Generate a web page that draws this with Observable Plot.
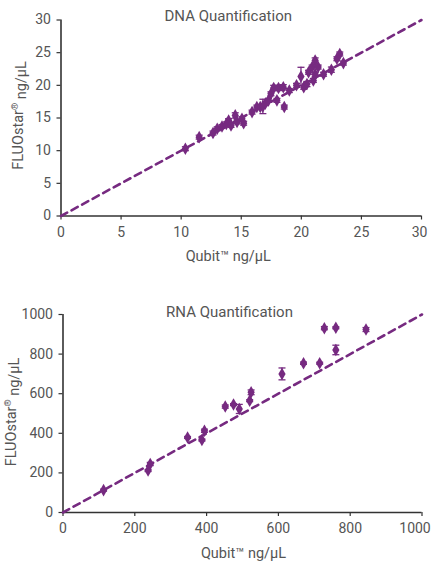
<!DOCTYPE html>
<html><head><meta charset="utf-8">
<script src="https://cdn.jsdelivr.net/npm/d3@7"></script>
<script src="https://cdn.jsdelivr.net/npm/@observablehq/plot@0.6"></script>
<style>
body{margin:0;background:#fff;}
#wrap{width:431px;}
#wrap svg{display:block;}
</style></head><body><div id="wrap"></div>
<script>
const purple = "#762a80";
const inkText = "#555";
const inkAxis = "#333";

// DNA Quantification (Qubit vs FLUOstar, ng/µL)
const dnaQubit = [10.35, 11.5, 12.65, 13.0, 13.4, 13.76, 13.95, 14.15, 14.5, 14.65, 15.06, 15.2, 15.9, 16.3, 16.58, 16.8, 17.0, 17.27, 17.47, 17.7, 17.97, 18.1, 18.5, 18.58, 19.0, 19.6, 19.97, 20.2, 20.47, 20.6, 20.9, 21.0, 21.15, 21.15, 21.4, 21.85, 22.5, 22.96, 23.2, 23.5];
const dnaFluo  = [10.3, 12.07, 12.7, 13.35, 13.7, 14.1, 14.6, 13.86, 15.4, 14.4, 14.9, 14.2, 15.9, 16.67, 16.67, 16.77, 17.2, 17.7, 18.7, 19.6, 17.7, 19.6, 19.7, 16.67, 19.2, 20.0, 21.36, 19.7, 20.2, 22.0, 22.8, 20.75, 23.8, 21.7, 22.8, 21.7, 22.4, 24.07, 24.8, 23.4];
const dnaErr   = [0.3, 0.3, 0.3, 0.3, 0.3, 0.3, 0.3, 0.3, 0.4, 0.3, 0.3, 0.3, 0.3, 0.3, 0.3, 1.1, 0.3, 0.3, 0.3, 0.4, 0.3, 0.4, 0.4, 0.3, 0.3, 0.3, 1.4, 0.3, 0.4, 0.3, 0.3, 0.3, 0.4, 0.3, 0.3, 0.3, 0.4, 0.3, 0.3, 0.3];
const dnaTicks = [0, 5, 10, 15, 20, 25, 30];

// RNA Quantification (Qubit vs FLUOstar, ng/µL)
const rnaQubit = [113, 237, 243, 347, 387, 394, 452, 475, 491, 520, 524, 610, 670, 715, 728, 760, 760, 844];
const rnaFluo  = [113, 212, 245, 379, 366, 413, 535, 545, 523, 565, 607, 700, 754, 754, 931, 933, 821, 924];
const rnaErr   = [5, 5, 8, 5, 5, 8, 8, 5, 23, 5, 12, 30, 6, 5, 8, 5, 24, 10];
const rnaTicks = [0, 200, 400, 600, 800, 1000];

const xLabel = "Qubit™ ng/µL";
const yLabel = "FLUOstar® ng/µL";

const capSymbol = {draw(ctx) { ctx.moveTo(-3.5, 0); ctx.lineTo(3.5, 0); }};

function chart(o) {
  const rows = o.qubit.map((q, i) => ({q, f: o.fluo[i], e: o.err[i]}));
  const maxV = o.ticks[o.ticks.length - 1];
  const diag = [o.ticks[0], maxV].map(v => ({q: v, f: v}));
  const axisCommon = {tickSize: 4, label: null, stroke: inkAxis, strokeWidth: 1.2, fill: inkText, tickFormat: d => String(d)};
  return Plot.plot({
    width: 431, height: o.height,
    marginTop: o.mt, marginBottom: o.mb, marginLeft: o.ml, marginRight: o.mr,
    x: {domain: [0, maxV]},
    y: {domain: [0, maxV]},
    style: {fontFamily: "Roboto, 'Open Sans', sans-serif", fontSize: "14px", color: inkText, background: "#fff", overflow: "visible"},
    marks: [
      Plot.axisX({...axisCommon, ticks: o.ticks.slice(0, -1), tickPadding: 7}),
      Plot.axisX({...axisCommon, ticks: o.ticks.slice(-1), tickPadding: 7, text: null}),
      Plot.axisX({...axisCommon, ticks: o.ticks.slice(-1), tickSize: 0, tickPadding: 11, dx: o.lastDx}),
      Plot.axisY({...axisCommon, ticks: o.ticks, tickPadding: 6}),
      Plot.ruleY([0], {stroke: inkAxis, strokeWidth: 1.6}),
      Plot.ruleX([0], {stroke: inkAxis, strokeWidth: 1.6}),
      Plot.line(diag, {x: "q", y: "f", stroke: purple, strokeWidth: 2.6, strokeDasharray: "7,5"}),
      Plot.ruleX(rows, {x: "q", y1: d => d.f - d.e, y2: d => d.f + d.e, stroke: purple, strokeWidth: 1.3}),
      Plot.dot(rows, {x: "q", y: d => d.f + d.e, symbol: capSymbol, r: 3.5, stroke: purple, strokeWidth: 1.3, fill: "none"}),
      Plot.dot(rows, {x: "q", y: d => d.f - d.e, symbol: capSymbol, r: 3.5, stroke: purple, strokeWidth: 1.3, fill: "none"}),
      Plot.dot(rows, {x: "q", y: "f", symbol: "diamond", r: 3.8, fill: purple, stroke: "none"}),
      Plot.text([o.title], {frameAnchor: "top", textAnchor: "middle", lineAnchor: "middle", dx: o.tdx, dy: o.tdy, fill: inkText, fontSize: 15}),
      Plot.text([xLabel], {frameAnchor: "bottom", textAnchor: "middle", lineAnchor: "middle", dx: o.xdx, dy: o.xdy, fill: inkText, fontSize: 14.5}),
      Plot.text([yLabel], {frameAnchor: "left", textAnchor: "middle", lineAnchor: "middle", rotate: -90, dx: o.ydx, dy: o.ydy, fill: inkText, fontSize: 14.5})
    ]
  });
}

function supReg(svg) {
  d3.select(svg).selectAll("text").each(function() {
    const t = this.textContent;
    if (t === yLabel) {
      const el = d3.select(this);
      el.text(null);
      el.append("tspan").text("FLUOstar");
      el.append("tspan").text("®").attr("font-size", 9).attr("dy", "-0.55em");
      el.append("tspan").text(" ng/µL").attr("dy", "0.55em");
    }
  });
  return svg;
}

const wrap = document.getElementById("wrap");
wrap.append(supReg(chart({
  qubit: dnaQubit, fluo: dnaFluo, err: dnaErr, ticks: dnaTicks, title: "DNA Quantification",
  height: 263, mt: 19.5, mb: 47.5, ml: 60.5, mr: 10,
  tdx: -13, tdy: -3.5, xdx: -13, xdy: 40.5, ydx: -43, ydy: -2.5, lastDx: -2
})));
wrap.append(supReg(chart({
  qubit: rnaQubit, fluo: rnaFluo, err: rnaErr, ticks: rnaTicks, title: "RNA Quantification",
  height: 300, mt: 51, mb: 51, ml: 62.5, mr: 9.5,
  tdx: -13, tdy: -2.5, xdx: 1, xdy: 41, ydx: -51.5, ydy: -1.5, lastDx: -7
})));
</script>
</body></html>
